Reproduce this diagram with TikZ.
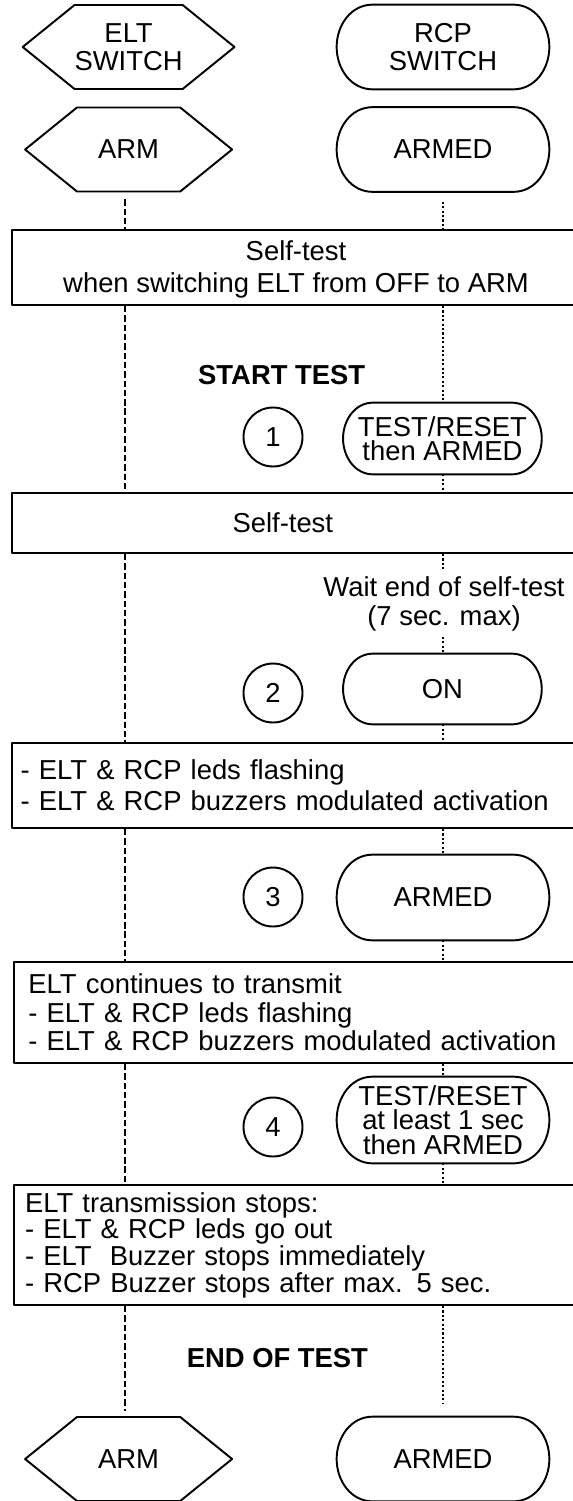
\documentclass[tikz,border=0pt]{standalone}
\usepackage{fontspec}
\setmainfont{Liberation Sans}
\usetikzlibrary{shapes.symbols}
\newcommand{\pxl}{0.02cm}
\newcommand{\boxfont}[1]{\fontsize{15.6}{#1}\selectfont}

\begin{document}
\begin{tikzpicture}[x=\pxl,y=-\pxl,line join=round,font=\boxfont{16},
	hexbox/.style={draw,line width=1.1pt,signal,signal to=east and west,signal from=nowhere,signal pointer angle=78,minimum width=207*\pxl,minimum height=84*\pxl,inner sep=0pt,align=center},
	pill/.style={minimum width=212*\pxl,minimum height=84*\pxl,inner sep=0pt,align=center,
		append after command={\pgfextra{\draw[line width=1.1pt]
			([xshift=#1]\tikzlastnode.north west) -- ([xshift=-#1]\tikzlastnode.north east)
			to[out=0,in=90] (\tikzlastnode.east) to[out=-90,in=0] ([xshift=-#1]\tikzlastnode.south east)
			-- ([xshift=#1]\tikzlastnode.south west) to[out=180,in=-90] (\tikzlastnode.west)
			to[out=90,in=180] ([xshift=#1]\tikzlastnode.north west) -- cycle;}}},
	pill/.default=0.72cm,
	smallpill/.style={pill=0.6cm,minimum width=198*\pxl,minimum height=71*\pxl,font=\boxfont{14}},
	stepbox/.style={draw,line width=1.2pt,anchor=west,align=left,text width=560*\pxl,inner xsep=4.9pt},
	num/.style={draw,circle,line width=1.1pt,minimum size=59*\pxl,inner sep=0pt},
	eltlife/.style={line width=1.3pt,dash pattern=on 3.6pt off 1.7pt},
	rcplife/.style={line width=1.3pt,dash pattern=on 1.2pt off 1.3pt}]
	\useasboundingbox (0,0) rectangle (573,1501);
	\coordinate (eltx) at (125,0);
	\coordinate (rcpx) at (443,0);

	\node[hexbox] (eltsw) at (128.6,47) {ELT\\SWITCH};
	\node[pill] (rcpsw) at (443,47) {RCP\\SWITCH};
	\node[hexbox] (eltarm) at (128.6,149.5) {ARM};
	\node[pill] (rcparm) at (443,149.5) {ARMED};

	\node[stepbox,minimum height=75*\pxl] (test1) at (11,267.5) {};
	\node[align=center,font=\boxfont{18.2}] (test1txt) at (296,269) {Self-test\\when switching ELT from OFF to ARM};
	\node (starttest) at (281.7,375) {\textbf{START TEST}};
	\node[num] (c1) at (273,437) {1};
	\node[smallpill] (s1) at (442.4,438.5) {TEST/RESET\\then ARMED};

	\node[stepbox,minimum height=60*\pxl] (test2) at (11,523) {};
	\node (test2txt) at (282.8,523) {Self-test};
	\node[align=center,font=\boxfont{16.5},inner sep=3pt] (wait) at (444,604) {Wait end of self-test\\(7 sec. max)};
	\node[num] (c2) at (273,693) {2};
	\node[smallpill,minimum height=70*\pxl] (s2) at (442.4,689) {ON};

	\node[stepbox,minimum height=85*\pxl,font=\boxfont{17.6}] (test3) at (11,785.5) {- ELT \& RCP leds flashing\\- ELT \& RCP buzzers modulated activation};
	\node[num] (c3) at (273,897) {3};
	\node[pill,minimum height=85*\pxl] (s3) at (443,897.5) {ARMED};

	\node[stepbox,minimum height=101*\pxl,inner xsep=8.2pt,font=\boxfont{16.2}] (test4) at (13,1012.5) {ELT continues to transmit\\- ELT \& RCP leds flashing\\- ELT \& RCP buzzers modulated activation};
	\node[num] (c4) at (273,1127) {4};
	\node[pill,minimum height=86*\pxl,font=\boxfont{14}] (s4) at (443,1120) {TEST/RESET\\at least 1 sec\\then ARMED};

	\node[stepbox,minimum height=120*\pxl,inner xsep=6.3pt,font=\boxfont{15.2}] (test5) at (13,1245) {ELT transmission stops:\\- ELT \& RCP leds go out\\- ELT\ \ Buzzer stops immediately\\- RCP Buzzer stops after max. 5 sec.};
	\node (endtest) at (277.4,1358) {\textbf{END OF TEST}};
	\node[hexbox] (eltend) at (128.6,1459) {ARM};
	\node[pill] (rcpend) at (443,1459) {ARMED};

	\draw[eltlife,shorten <=0.14cm] (eltarm.south -| eltx) -- (test1.north -| eltx);
	\foreach \a/\b in {test1/test2,test2/test3,test3/test4,test4/test5}
		\draw[eltlife] (\a.south -| eltx) -- (\b.north -| eltx);
	\draw[eltlife,shorten >=0.1cm] (test5.south -| eltx) -- (eltend.north -| eltx);

	\draw[rcplife,shorten <=0.2cm] (rcparm.south -| rcpx) -- (test1.north -| rcpx);
	\foreach \a/\b in {test1/s1,s1/test2,test2/wait,wait/s2,s2/test3,test3/s3,s3/test4,test4/s4,s4/test5}
		\draw[rcplife] (\a.south -| rcpx) -- (\b.north -| rcpx);
	\draw[rcplife,shorten >=0.26cm] (test5.south -| rcpx) -- (rcpend.north -| rcpx);
\end{tikzpicture}
\end{document}
